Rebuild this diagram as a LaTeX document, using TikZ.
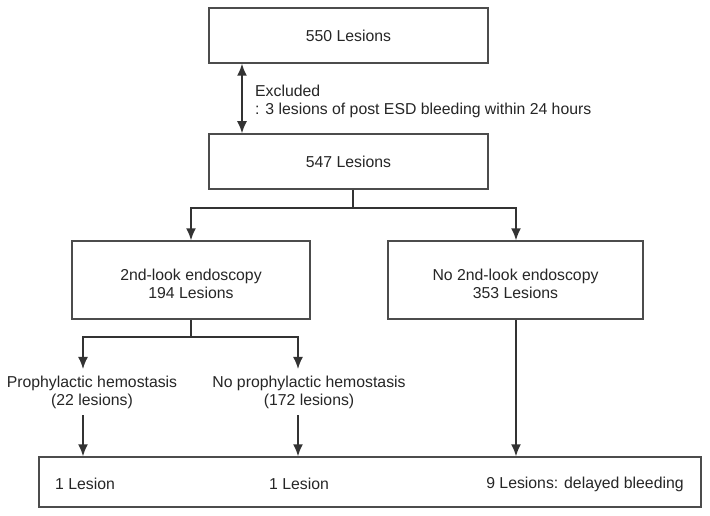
\documentclass[tikz,border=0pt]{standalone}
\usepackage{fontspec}
\setmainfont{Liberation Sans}
\usetikzlibrary{arrows.meta}
\begin{document}
\begin{tikzpicture}[x=1pt,y=-1pt,
  every node/.style={font=\fontsize{15.8pt}{18pt}\selectfont, text=black!85},
  box/.style={draw=black!70, line width=1.5pt, inner sep=0pt, align=center},
  lbl/.style={inner sep=6.5pt, align=center},
  conn/.style={draw=black!80, line width=1.5pt},
  tip/.tip={Latex[length=12pt,width=10pt]},
  arr/.style={conn, -tip}]
\useasboundingbox (0,0) rectangle (710,516);
\fill[white] (0,0) rectangle (710,516);
\node[box, minimum width=279pt, minimum height=55pt] (b1) at (348.5,35.5) {550 Lesions};
\node[box, minimum width=279pt, minimum height=55pt] (b2) at (348.5,161.5) {547 Lesions};
\node[box, minimum width=238pt, minimum height=78pt] (b3) at (191,280) {};
\node (b3t) at (191,284) [align=center, inner sep=0pt] {2nd-look endoscopy\\194 Lesions};
\node[box, minimum width=255pt, minimum height=78pt] (b4) at (515.5,280) {};
\node (b4t) at (515.5,284) [align=center, inner sep=0pt] {No 2nd-look endoscopy\\353 Lesions};
\node[box, minimum width=662pt, minimum height=50pt] (b5) at (370,482) {};
\node[anchor=west, inner sep=0pt] (r1) at (55,484) {1 Lesion};
\node[inner sep=0pt] (r2) at (299,484) {1 Lesion};
\node[inner sep=0pt] (r3) at (585,484) {9 Lesions: delayed bleeding};
\node[anchor=west, align=left, inner sep=0pt] (ex) at (255,101) {Excluded\\: 3 lesions of post ESD bleeding within 24 hours};
\node[lbl] (t1) at (92,392) {Prophylactic hemostasis\\(22 lesions)};
\node[lbl] (t2) at (309,392) {No prophylactic hemostasis\\(172 lesions)};
\coordinate (ax) at (242,0);
\coordinate (sx) at (353,0);
\coordinate (j1) at (353,208);
\coordinate (j2) at (191,337);
\coordinate (cL) at (83,0);
\coordinate (cR) at (298,0);
\coordinate (cB) at (516,0);
\draw[conn, tip-tip] (ax |- b1.south) -- (ax |- b2.north);
\draw[conn] (sx |- b2.south) -- (j1);
\draw[arr] (j1) -| (b3.north);
\draw[arr] (j1) -| (cB |- b4.north);
\draw[conn] (b3.south) -- (j2);
\draw[arr] (j2) -| (cL |- t1.north);
\draw[arr] (j2) -| (cR |- t2.north);
\draw[arr] (cL |- t1.south) -- (cL |- b5.north);
\draw[arr] (cR |- t2.south) -- (cR |- b5.north);
\draw[arr] (cB |- b4.south) -- (cB |- b5.north);
\end{tikzpicture}
\end{document}
